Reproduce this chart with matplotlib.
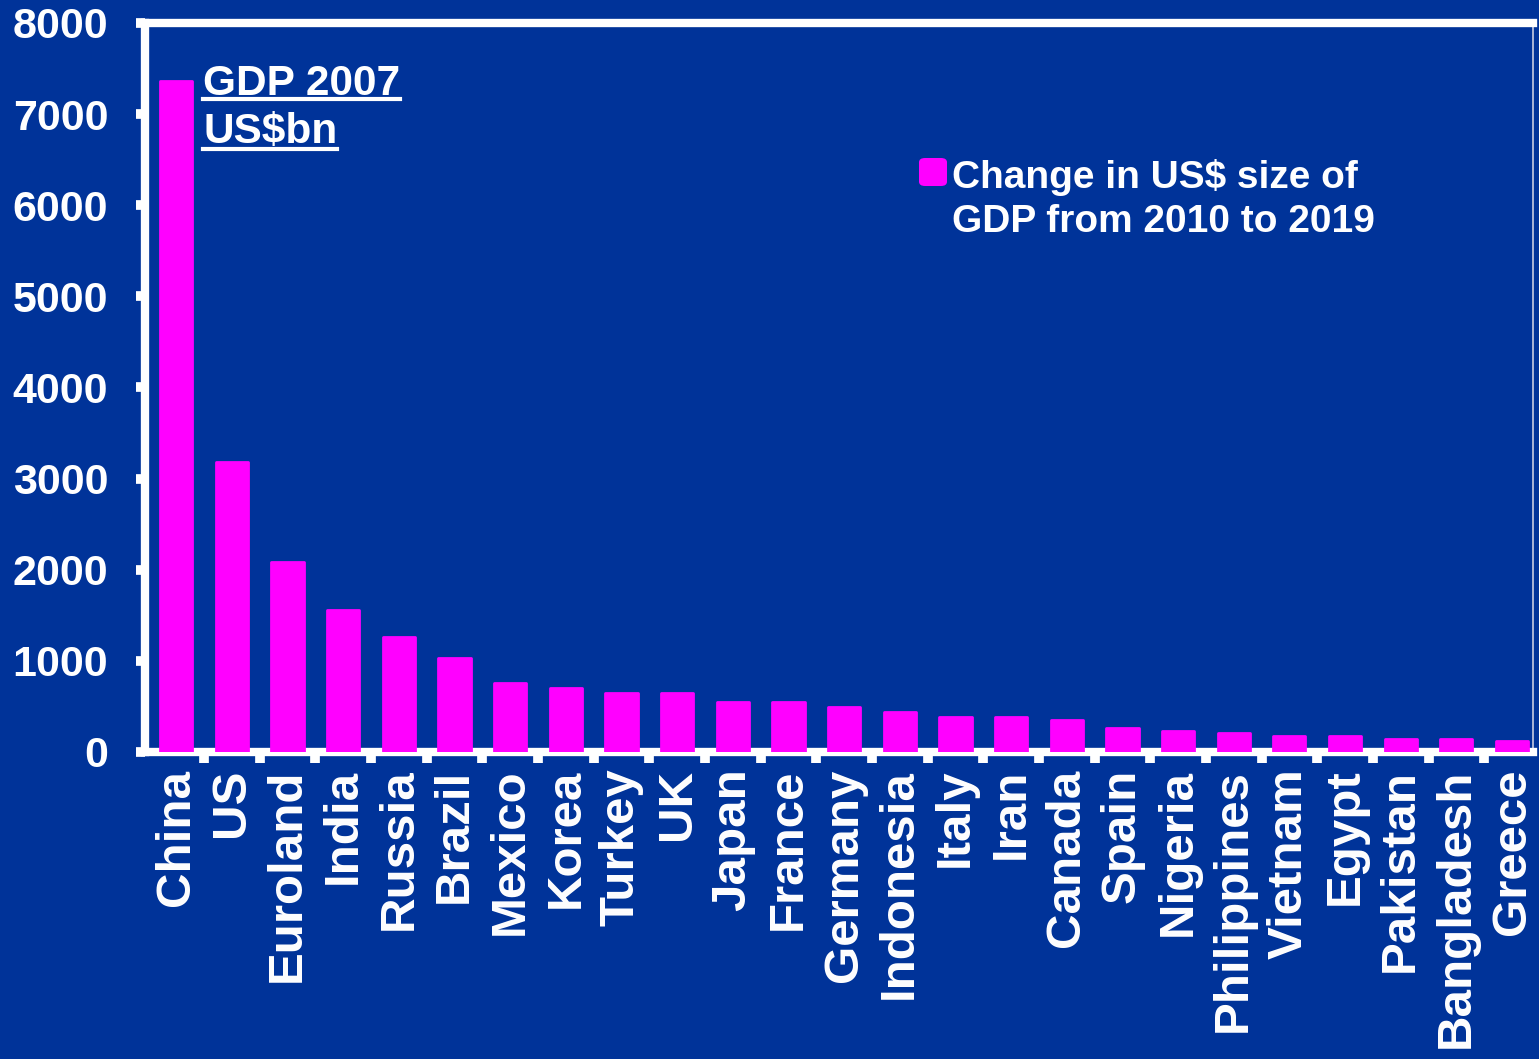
import matplotlib
matplotlib.use("Agg")
import matplotlib.pyplot as plt
from matplotlib.lines import Line2D
from matplotlib.patches import FancyBboxPatch
import numpy as np

countries = ["China", "US", "Euroland", "India", "Russia", "Brazil", "Mexico",
             "Korea", "Turkey", "UK", "Japan", "France", "Germany", "Indonesia",
             "Italy", "Iran", "Canada", "Spain", "Nigeria", "Philippines",
             "Vietnam", "Egypt", "Pakistan", "Bangladesh", "Greece"]
gdp_change = [7360, 3180, 2080, 1560, 1260, 1030, 760, 700, 650, 650, 550, 550,
              495, 440, 385, 385, 350, 265, 230, 205, 175, 175, 145, 145, 120]
yticks = [0, 1000, 2000, 3000, 4000, 5000, 6000, 7000, 8000]
legend_lines = ["Change in US\\$ size of", "GDP from 2010 to 2019"]

W, H = 1539, 1059
bg = "#003399"
pink = "#FF00FF"
plt.rcParams["font.family"] = ["Liberation Sans", "DejaVu Sans"]
plt.rcParams["font.weight"] = "bold"

fig = plt.figure(figsize=(W / 100, H / 100), dpi=100, facecolor=bg)
ax = fig.add_axes([0.0942, 0.2899, 0.902, 0.6884], facecolor=bg)

x = np.arange(len(countries))
ax.bar(x, gdp_change, width=0.58, color=pink, edgecolor=pink,
       linewidth=2, joinstyle="round", zorder=3)

ax.set_xlim(-0.56, 24.38)
ax.set_ylim(0, 8000)
ax.set_yticks(yticks)
ax.set_yticklabels([str(v) for v in yticks], fontsize=31, fontweight="bold", color="white")
ax.tick_params(axis="y", direction="out", length=6.5, width=7, color="white", pad=20)

ax.set_xticks(x)
ax.set_xticklabels(countries, rotation=90, fontsize=35.5, fontweight="bold",
                   color="white", va="top", ha="center")
ax.tick_params(axis="x", which="major", length=0, pad=12)
ax.set_xticks(x[:-1] + 0.5, minor=True)
ax.tick_params(axis="x", which="minor", direction="out", length=8, width=7, color="white")

for side in ["left", "bottom", "top"]:
    ax.spines[side].set_color("white")
    ax.spines[side].set_linewidth(6)
ax.spines["right"].set_color("#c8cce0")
ax.spines["right"].set_linewidth(1.2)

# legend drawn by hand: rounded magenta key + two lines of text
fig.add_artist(FancyBboxPatch((919 / W, 1 - 186 / H), 28 / W, 28 / H,
                              boxstyle="round,pad=0,rounding_size=0.004",
                              transform=fig.transFigure, facecolor=pink,
                              edgecolor="none"))
for line, yb in zip(legend_lines, [188, 232]):
    fig.text(952 / W, 1 - yb / H, line, fontsize=28, fontweight="bold",
             color="white", va="baseline", ha="left")

# "GDP 2007 / US$bn" note with underlines
t1 = fig.text(203 / W, 1 - 95 / H, "GDP 2007", fontsize=30.5, fontweight="bold",
              color="white", va="baseline", ha="left")
t2 = fig.text(203 / W, 1 - 143 / H, "US\\$bn", fontsize=30.5, fontweight="bold",
              color="white", va="baseline", ha="left")
fig.canvas.draw()
r = fig.canvas.get_renderer()
for t, yb in [(t1, 99), (t2, 149)]:
    bb = t.get_window_extent(renderer=r)
    fig.add_artist(Line2D([bb.x0 / W, bb.x1 / W], [1 - yb / H] * 2, color="white", lw=3))

fig.savefig("out.png", dpi=100, facecolor=bg)
